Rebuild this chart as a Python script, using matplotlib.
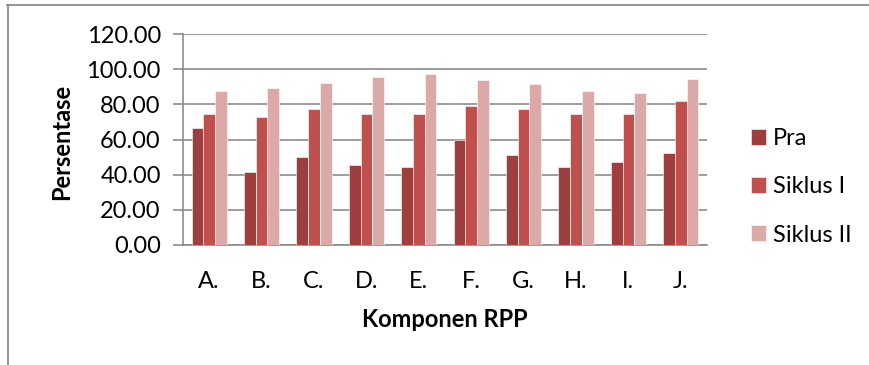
import matplotlib.pyplot as plt
import numpy as np
from matplotlib.lines import Line2D

komponen = ["A.", "B.", "C.", "D.", "E.", "F.", "G.", "H.", "I.", "J."]
pra = [66.5, 41.5, 49.9, 45.7, 44.4, 59.5, 51.0, 44.4, 47.4, 52.5]
siklus_1 = [74.7, 72.8, 77.3, 74.7, 74.7, 79.0, 77.2, 74.7, 74.7, 81.7]
siklus_2 = [87.4, 89.3, 92.3, 95.7, 97.1, 93.6, 91.7, 87.6, 86.6, 94.2]

series = [("Pra", pra, "#9e3e3d"),
          ("Siklus I", siklus_1, "#c0504d"),
          ("Siklus II", siklus_2, "#dba9a8")]

plt.rcParams['font.family'] = ['Lato', 'DejaVu Sans']
grey = "#8c8c8c"
fs = 17

fig = plt.figure(figsize=(8.69, 3.65), dpi=100)
ax = fig.add_axes([0.2106, 0.3288, 0.6030, 0.5780])

x = np.arange(len(komponen))
w = 0.223
for i, (name, vals, col) in enumerate(series):
    ax.bar(x + (i - 1) * w, vals, w, color=col, edgecolor="white",
           linewidth=0.4, label=name, zorder=3)

ax.set_xlim(-0.5, len(komponen) - 0.5)
ax.set_ylim(0, 120)
ax.set_yticks(np.arange(0, 121, 20))
ax.set_yticklabels([f"{v:.2f}" for v in np.arange(0, 121, 20)], fontsize=fs)
ax.set_xticks(x)
ax.set_xticklabels(komponen, fontsize=fs)
ax.yaxis.grid(True, color=grey, linewidth=1.2, zorder=0)
ax.set_axisbelow(True)

for s in ["top", "right"]:
    ax.spines[s].set_visible(False)
for s in ["left", "bottom"]:
    ax.spines[s].set_color(grey)
    ax.spines[s].set_linewidth(1.2)
ax.tick_params(axis="y", length=7, width=1.2, color=grey, pad=9)
ax.tick_params(axis="x", length=0, pad=19)

ax.set_ylabel("Persentase", fontsize=fs, fontweight="bold", va="center")
ax.yaxis.set_label_coords(-0.231, 0.488)
ax.set_xlabel("Komponen RPP", fontsize=fs, fontweight="bold", va="center")
ax.xaxis.set_label_coords(0.5, -0.355)

ax.legend(loc="center left", bbox_to_anchor=(1.043, 0.275), frameon=False,
          fontsize=fs, handlelength=0.65, handleheight=0.65,
          handletextpad=0.3, labelspacing=1.15)

# surrounding chart frame (top and left edges)
fig.add_artist(Line2D([7 / 869, 1], [1 - 4.5 / 365] * 2, transform=fig.transFigure,
                      color=grey, linewidth=1.3))
fig.add_artist(Line2D([8 / 869] * 2, [0, 1 - 4.5 / 365], transform=fig.transFigure,
                      color=grey, linewidth=1.3))

fig.savefig("out.png", dpi=100)
